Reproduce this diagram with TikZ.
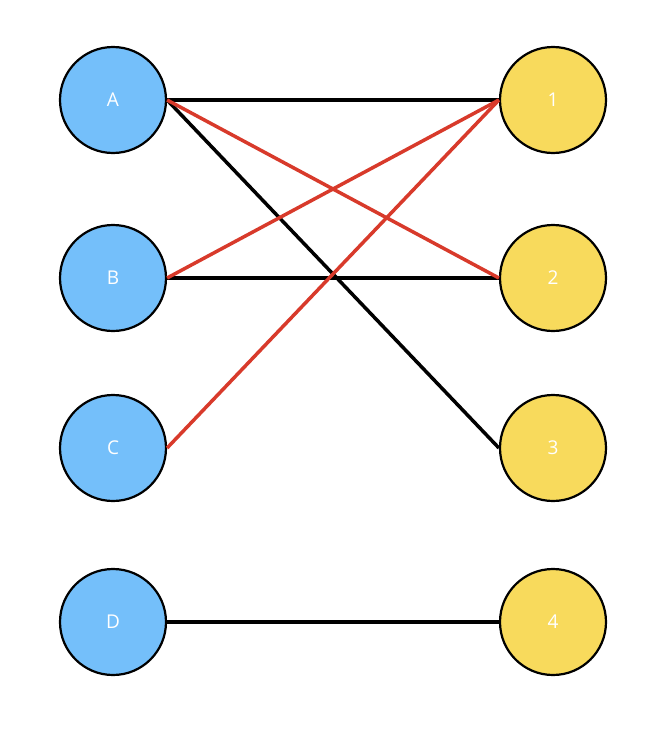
\documentclass[tikz,border=0pt]{standalone}
\usepackage{fontspec}
\setmainfont{Open Sans}
\begin{document}
\begin{tikzpicture}[x=1pt,y=-1pt,
  lnode/.style={circle,draw=black,line width=2.2pt,fill=blue!0!cL,minimum size=106pt,inner sep=0pt,text=white,font=\fontsize{19}{22}\selectfont},
  rnode/.style={lnode,fill=cR},
  blk/.style={line width=3.5pt,draw=black},
  red/.style={line width=3.5pt,draw=cRed}]
\definecolor{cL}{HTML}{74BFFA}
\definecolor{cR}{HTML}{F8DA5C}
\definecolor{cRed}{HTML}{D83A2B}
\useasboundingbox (0,0) rectangle (666,744);
\node[lnode] (A) at (113,100) {A};
\node[lnode] (B) at (113,278) {B};
\node[lnode] (C) at (113,448) {C};
\node[lnode] (D) at (113,622) {D};
\node[rnode] (n1) at (553,100) {1};
\node[rnode] (n2) at (553,278) {2};
\node[rnode] (n3) at (553,448) {3};
\node[rnode] (n4) at (553,622) {4};
\draw[blk] (A.east) -- (n1.west);
\draw[blk] (A.east) -- (n3.west);
\draw[blk] (B.east) -- (n2.west);
\draw[blk] (D.east) -- (n4.west);
\draw[red] (A.east) -- (n2.west);
\draw[red] (B.east) -- (n1.west);
\draw[red] (C.east) -- (n1.west);
\end{tikzpicture}
\end{document}
